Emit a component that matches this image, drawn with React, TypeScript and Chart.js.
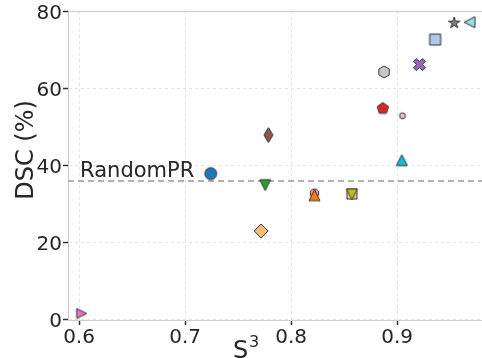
import React, { useEffect, useRef } from "react";
import { Chart, registerables } from "chart.js";
Chart.register(...registerables);

// ---- data ----
const methodIds = [
  "m01", "m02", "m03", "m04", "m05", "m06", "m07", "m08", "m09",
  "m10", "m11", "m12", "m13", "m14", "m15", "m16", "m17",
];
const s3Values = [
  0.6025, 0.7242, 0.7786, 0.7755, 0.7717, 0.822, 0.822, 0.8573, 0.8573,
  0.8877, 0.8865, 0.905, 0.9044, 0.921, 0.9358, 0.9538, 0.9682,
];
const dscValues = [
  1.6, 37.9, 47.9, 34.9, 23.0, 32.8, 32.3, 32.6, 32.5,
  64.3, 54.8, 52.9, 41.4, 66.2, 72.7, 77.0, 77.2,
];
const randomPRValue = 36.0;
const randomPRLabel = "RandomPR";
const xTicks = [0.6, 0.7, 0.8, 0.9];
const yTicks = [0, 20, 40, 60, 80];

// ---- styles (separate from data) ----
const markerShapes = [
  "triRight", "circle", "thinDiamond", "triDown", "diamond", "octagon", "triUp", "square", "triDown",
  "hexagon", "pentagon", "circle", "triUp", "xfilled", "square", "star", "triLeft",
];
const markerColors = [
  "#e377c2", "#1f77b4", "#8c564b", "#2ca02c", "#ffbb78", "#ff9896", "#ff7f0e", "#dbdb8d", "#bcbd22",
  "#c7c7c7", "#d62728", "#f7b6d2", "#17becf", "#9467bd", "#aec7e8", "#7f7f7f", "#9edae5",
];
const markerRadii = [
  5, 6, 7.5, 5.5, 7, 4.5, 5.5, 5, 5.5,
  6, 6, 3, 5.5, 6.5, 5.5, 6, 5.5,
];

function makeMarker(shape: string, fill: string, r: number): HTMLCanvasElement {
  const pad = 2;
  const s = Math.ceil(2 * r + 2 * pad);
  const c = document.createElement("canvas");
  c.width = s;
  c.height = s;
  const ctx = c.getContext("2d")!;
  const cx = s / 2;
  const cy = s / 2;
  ctx.beginPath();
  const poly = (pts: number[][]) => {
    pts.forEach(([px, py], i) => (i ? ctx.lineTo(cx + px, cy + py) : ctx.moveTo(cx + px, cy + py)));
    ctx.closePath();
  };
  const regular = (n: number, rot: number, rr = r) => {
    const pts: number[][] = [];
    for (let i = 0; i < n; i++) {
      const a = rot + (i * 2 * Math.PI) / n;
      pts.push([rr * Math.cos(a), rr * Math.sin(a)]);
    }
    poly(pts);
  };
  switch (shape) {
    case "circle":
      ctx.arc(cx, cy, r, 0, Math.PI * 2);
      break;
    case "triUp":
      poly([[0, -r], [-r, r], [r, r]]);
      break;
    case "triDown":
      poly([[0, r], [-r, -r], [r, -r]]);
      break;
    case "triLeft":
      poly([[-r, 0], [r, -r], [r, r]]);
      break;
    case "triRight":
      poly([[r, 0], [-r, -r], [-r, r]]);
      break;
    case "diamond":
      poly([[0, -r], [r, 0], [0, r], [-r, 0]]);
      break;
    case "thinDiamond":
      poly([[0, -r], [0.6 * r, 0], [0, r], [-0.6 * r, 0]]);
      break;
    case "square":
      poly([[-r, -r], [r, -r], [r, r], [-r, r]]);
      break;
    case "pentagon":
      regular(5, -Math.PI / 2);
      break;
    case "hexagon":
      regular(6, -Math.PI / 2);
      break;
    case "octagon":
      regular(8, Math.PI / 8);
      break;
    case "xfilled": {
      const t = r * 0.32;
      const L = r;
      const base = [
        [-t, -L], [t, -L], [t, -t], [L, -t], [L, t], [t, t],
        [t, L], [-t, L], [-t, t], [-L, t], [-L, -t], [-t, -t],
      ];
      const ca = Math.cos(Math.PI / 4);
      const sa = Math.sin(Math.PI / 4);
      poly(base.map(([x, y]) => [x * ca - y * sa, x * sa + y * ca]));
      break;
    }
    case "star": {
      const pts: number[][] = [];
      for (let i = 0; i < 10; i++) {
        const a = -Math.PI / 2 + (i * Math.PI) / 5;
        const rr = i % 2 === 0 ? r : r * 0.382;
        pts.push([rr * Math.cos(a), rr * Math.sin(a)]);
      }
      poly(pts);
      break;
    }
  }
  ctx.fillStyle = fill;
  ctx.fill();
  ctx.lineWidth = 1;
  ctx.strokeStyle = "#333333";
  ctx.stroke();
  return c;
}

const TEXT = "#262626";
const FONT = "'DejaVu Sans', sans-serif";

export default function App() {
  const ref = useRef<HTMLCanvasElement | null>(null);

  useEffect(() => {
    document.body.style.margin = "0";
    const canvas = ref.current!;
    const n = methodIds.length;

    const pointSets = methodIds.map((id, i) => ({
      type: "scatter" as const,
      label: id,
      data: [{ x: s3Values[i], y: dscValues[i] }],
      pointStyle: makeMarker(markerShapes[i], markerColors[i], markerRadii[i]),
      pointRadius: markerRadii[i],
      showLine: false,
      order: n - i,
    }));

    const xMin = 0.5896;
    const xMax = 0.98;

    const annot = {
      id: "annot",
      afterDraw(chart: any) {
        const { ctx, chartArea, scales } = chart;
        ctx.save();
        // top border
        ctx.strokeStyle = "#cccccc";
        ctx.lineWidth = 1;
        ctx.beginPath();
        ctx.moveTo(chartArea.left, Math.round(chartArea.top) + 0.5);
        ctx.lineTo(chartArea.right, Math.round(chartArea.top) + 0.5);
        ctx.stroke();

        ctx.fillStyle = TEXT;
        // RandomPR label
        ctx.font = `21px ${FONT}`;
        ctx.textAlign = "left";
        ctx.textBaseline = "alphabetic";
        ctx.fillText(randomPRLabel, scales.x.getPixelForValue(0.601), scales.y.getPixelForValue(randomPRValue + 1.1));

        // y title
        ctx.save();
        ctx.translate(27, 150);
        ctx.rotate(-Math.PI / 2);
        ctx.font = `24px ${FONT}`;
        ctx.textAlign = "center";
        ctx.textBaseline = "middle";
        ctx.fillText("DSC (%)", 0, 0);
        ctx.restore();

        // x title S^3
        ctx.font = `24px ${FONT}`;
        ctx.textAlign = "left";
        ctx.textBaseline = "alphabetic";
        ctx.fillText("S", 233, 358);
        ctx.font = `16px ${FONT}`;
        ctx.fillText("3", 249, 347);
        ctx.restore();
      },
    };

    const gridOpts = {
      color: "#e4e4e4",
      lineWidth: 1,
      drawTicks: true,
      tickLength: 5,
      tickColor: "#333333",
      tickWidth: 1.5,
      tickBorderDash: [],
    } as any;

    const chart = new Chart(canvas, {
      type: "scatter",
      data: {
        datasets: [
          {
            type: "line" as const,
            label: randomPRLabel,
            data: [
              { x: xMin, y: randomPRValue },
              { x: xMax, y: randomPRValue },
            ],
            borderColor: "#999999",
            borderWidth: 1.5,
            borderDash: [6, 4],
            pointRadius: 0,
            fill: false,
            order: 100,
          } as any,
          ...pointSets,
        ],
      },
      options: {
        animation: false,
        responsive: false,
        maintainAspectRatio: false,
        events: [],
        layout: { autoPadding: false, padding: { top: 11, right: 0, left: 0, bottom: 0 } },
        plugins: {
          legend: { display: false },
          tooltip: { enabled: false },
          title: { display: false },
        },
        scales: {
          x: {
            type: "linear",
            min: xMin,
            max: xMax,
            afterBuildTicks: (scale: any) => {
              scale.ticks = xTicks.map((v) => ({ value: v }));
            },
            afterFit: (scale: any) => {
              scale.height = 38;
              scale.paddingLeft = 0;
              scale.paddingRight = 0;
            },
            ticks: {
              color: TEXT,
              font: { family: FONT, size: 20 },
              padding: 1,
              maxRotation: 0,
              autoSkip: false,
              callback: (v: any) => Number(v).toFixed(1),
            },
            grid: gridOpts,
            border: { display: true, color: "#cccccc", width: 1, dash: [3, 3] },
          },
          y: {
            type: "linear",
            min: -0.1,
            max: 80.1,
            afterBuildTicks: (scale: any) => {
              scale.ticks = yTicks.map((v) => ({ value: v }));
            },
            afterFit: (scale: any) => {
              scale.width = 68;
              scale.paddingTop = 0;
              scale.paddingBottom = 0;
            },
            ticks: {
              color: TEXT,
              font: { family: FONT, size: 20 },
              padding: 1,
              labelOffset: 2,
              autoSkip: false,
              callback: (v: any) => String(v),
            },
            grid: gridOpts,
            border: { display: true, color: "#cccccc", width: 1, dash: [3, 3] },
          },
        },
      } as any,
      plugins: [annot],
    });

    return () => chart.destroy();
  }, []);

  return <canvas ref={ref} width={482} height={358} style={{ display: "block" }} />;
}
